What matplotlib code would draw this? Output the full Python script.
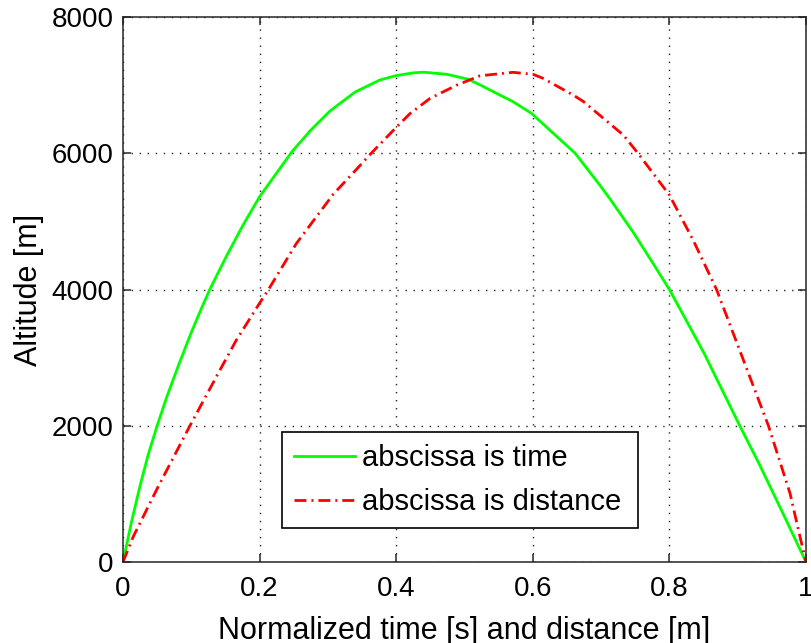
import numpy as np
import matplotlib
matplotlib.use('Agg')
import matplotlib.pyplot as plt

plt.rcParams['font.family'] = ['Liberation Sans', 'DejaVu Sans']

# ===== data =====
t_norm = [0, 0.0127, 0.025, 0.037, 0.05, 0.064, 0.081, 0.1, 0.113, 0.127,
          0.152, 0.176, 0.2, 0.247, 0.275, 0.303, 0.34, 0.376, 0.4, 0.425,
          0.44, 0.474, 0.506, 0.523, 0.571, 0.598, 0.662, 0.698, 0.713, 0.747,
          0.775, 0.8, 0.85, 0.903, 0.931, 0.965, 1.0]
alt_t = [0, 600, 1120, 1580, 2000, 2420, 2880, 3370, 3680, 4000,
         4500, 4950, 5362, 6018, 6340, 6620, 6900, 7075, 7140, 7180,
         7190, 7159, 7085, 7002, 6757, 6586, 6000, 5534, 5330, 4840,
         4400, 4000, 3080, 2000, 1449, 740, 0]

d_norm = [0, 0.015, 0.049, 0.098, 0.142, 0.166, 0.2, 0.213, 0.254, 0.308,
          0.347, 0.362, 0.4, 0.420, 0.4495, 0.4886, 0.5227, 0.571, 0.6, 0.615,
          0.659, 0.674, 0.7325, 0.754, 0.8, 0.835, 0.869, 0.945, 0.9766, 0.991,
          1.0]
alt_d = [0, 372, 1057, 2000, 2818, 3259, 3800, 4000, 4678, 5400,
         5820, 5985, 6380, 6580, 6805, 7000, 7137, 7188, 7160, 7100,
         6855, 6760, 6268, 6000, 5387, 4720, 4000, 2000, 1008, 380,
         0]

xticks = [0, 0.2, 0.4, 0.6, 0.8, 1]
xtick_labels = ['0', '0.2', '0.4', '0.6', '0.8', '1']
yticks = [0, 2000, 4000, 6000, 8000]
labels = ['abscissa is time', 'abscissa is distance']

# ===== figure =====
fig = plt.figure(figsize=(8.12, 6.43), dpi=100)
ax = fig.add_axes([123/812, 81/643, 683/812, 545/643])

ax.plot(t_norm, alt_t, color=(0, 1, 0), lw=2, label=labels[0])
ax.plot(d_norm, alt_d, color=(1, 0, 0), lw=2,
        linestyle=(0, (4.3, 1.8, 0.7, 1.8)), label=labels[1])

ax.set_xlim(0, 1)
ax.set_ylim(0, 8000)
ax.set_xticks(xticks)
ax.set_xticklabels(xtick_labels)
ax.set_yticks(yticks)

ax.grid(True, color='#222222', linestyle=(0, (1, 4.8)), lw=1)
for s in ax.spines.values():
    s.set_linewidth(1.1)
    s.set_color('#262626')
ax.tick_params(direction='in', length=6, width=1.1, color='#262626',
               top=True, right=True, labelsize=20)
ax.tick_params(axis='x', pad=10)
ax.tick_params(axis='y', pad=7)

ax.set_xlabel('Normalized time [s] and distance [m]', fontsize=22, labelpad=10)
ax.set_ylabel('Altitude [m]', fontsize=22, labelpad=5)

leg = ax.legend(loc='lower left', bbox_to_anchor=(0.2324, 0.0624, 0.5216, 0.18),
                mode='expand', fontsize=21, fancybox=False, framealpha=1,
                edgecolor='black', handlelength=2.1, handletextpad=0.24,
                borderpad=0.41, labelspacing=0.55, borderaxespad=0)
leg.get_frame().set_linewidth(1.2)

fig.savefig('out.png', dpi=100)
